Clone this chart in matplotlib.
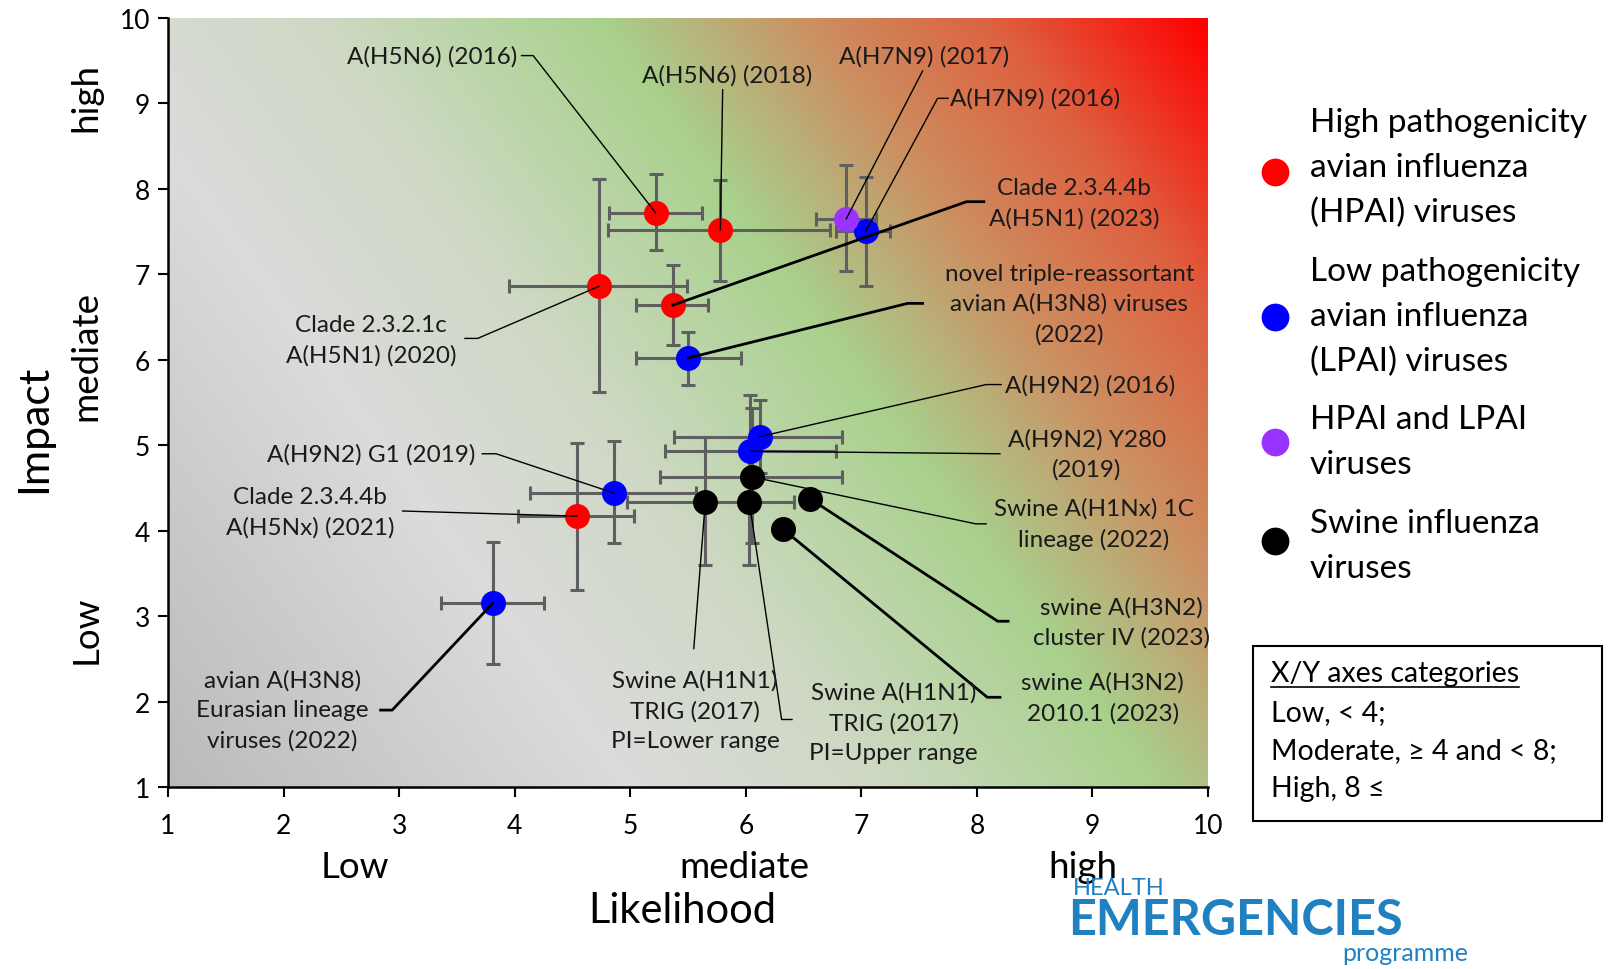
import numpy as np
import matplotlib
matplotlib.use('Agg')
import matplotlib.pyplot as plt
from matplotlib.patches import Rectangle

plt.rcParams['font.family'] = ['Lato', 'DejaVu Sans']

W, H = 1620, 970

# HPAI viruses (red)
hpai_names = ['A(H5N6) (2016)', 'A(H5N6) (2018)', 'Clade 2.3.2.1c\nA(H5N1) (2020)',
              'Clade 2.3.4.4b\nA(H5N1) (2023)', 'Clade 2.3.4.4b\nA(H5Nx) (2021)']
hpai_x = [5.22, 5.78, 4.73, 5.37, 4.54]
hpai_y = [7.72, 7.52, 6.86, 6.64, 4.17]
hpai_xlo = [4.82, 4.81, 3.95, 5.05, 4.03]
hpai_xhi = [5.62, 6.73, 5.49, 5.67, 5.03]
hpai_ylo = [7.29, 6.92, 5.62, 6.17, 3.31]
hpai_yhi = [8.17, 8.10, 8.11, 7.11, 5.03]

# LPAI viruses (blue)
lpai_names = ['A(H7N9) (2016)', 'novel triple-reassortant\navian A(H3N8) viruses\n(2022)',
              'A(H9N2) (2016)', 'A(H9N2) Y280\n(2019)', 'A(H9N2) G1 (2019)',
              'avian A(H3N8)\nEurasian lineage\nviruses (2022)']
lpai_x = [7.04, 5.50, 6.12, 6.04, 4.86, 3.81]
lpai_y = [7.51, 6.02, 5.10, 4.93, 4.44, 3.15]
lpai_xlo = [6.78, 5.05, 5.38, 5.30, 4.13, 3.36]
lpai_xhi = [7.25, 5.96, 6.83, 6.78, 5.57, 4.25]
lpai_ylo = [6.86, 5.70, 4.67, 4.30, 3.85, 2.44]
lpai_yhi = [8.14, 6.32, 5.53, 5.59, 5.05, 3.87]

# HPAI and LPAI (purple)
mix_names = ['A(H7N9) (2017)']
mix_x = [6.87]
mix_y = [7.65]
mix_xlo = [6.61]
mix_xhi = [7.13]
mix_ylo = [7.04]
mix_yhi = [8.28]

# Swine influenza viruses (black)
swine_names = ['Swine A(H1Nx) 1C\nlineage (2022)', 'Swine A(H1N1)\nTRIG (2017)\nPI=Lower range',
               'Swine A(H1N1)\nTRIG (2017)\nPI=Upper range', 'swine A(H3N2)\ncluster IV (2023)',
               'swine A(H3N2)\n2010.1 (2023)']
swine_x = [6.05, 5.65, 6.03, 6.56, 6.32]
swine_y = [4.63, 4.34, 4.34, 4.37, 4.02]
swine_xlo = [5.26, 4.97, 6.03, 6.56, 6.32]
swine_xhi = [6.83, 6.42, 6.03, 6.56, 6.32]
swine_ylo = [3.85, 3.60, 3.60, 4.37, 4.02]
swine_yhi = [5.44, 5.10, 5.10, 4.37, 4.02]

groups = [
    ('#ff0000', hpai_names, hpai_x, hpai_y, hpai_xlo, hpai_xhi, hpai_ylo, hpai_yhi),
    ('#0000ff', lpai_names, lpai_x, lpai_y, lpai_xlo, lpai_xhi, lpai_ylo, lpai_yhi),
    ('#9933ff', mix_names, mix_x, mix_y, mix_xlo, mix_xhi, mix_ylo, mix_yhi),
    ('#000000', swine_names, swine_x, swine_y, swine_xlo, swine_xhi, swine_ylo, swine_yhi),
]

legend_lines = [
    ['High pathogenicity', 'avian influenza', '(HPAI) viruses'],
    ['Low pathogenicity', 'avian influenza', '(LPAI) viruses'],
    ['HPAI and LPAI', 'viruses'],
    ['Swine influenza', 'viruses'],
]

box_lines = ['X/Y axes categories', 'Low, < 4;', 'Moderate, \u2265 4 and < 8;', 'High, 8 \u2264']

# label placement: name -> text x, text y, ha, leader points on label side, line width
label_layout = [
    ('A(H5N6) (2016)', 4.02, 9.56, 'right', [(4.06, 9.56), (4.16, 9.56)], 1.0),
    ('A(H5N6) (2018)', 5.84, 9.34, 'center', [(5.80, 9.16)], 1.0),
    ('A(H7N9) (2017)', 7.54, 9.56, 'center', [(7.53, 9.38)], 1.0),
    ('A(H7N9) (2016)', 7.77, 9.06, 'left', [(7.75, 9.06), (7.66, 9.06)], 1.0),
    ('Clade 2.3.4.4b\nA(H5N1) (2023)', 8.84, 7.84, 'center', [(8.06, 7.85), (7.91, 7.85)], 2.0),
    ('novel triple-reassortant\navian A(H3N8) viruses\n(2022)', 8.80, 6.66, 'center',
     [(7.53, 6.66), (7.40, 6.66)], 2.0),
    ('Clade 2.3.2.1c\nA(H5N1) (2020)', 2.76, 6.23, 'center', [(3.57, 6.25), (3.68, 6.25)], 1.0),
    ('A(H9N2) (2016)', 8.24, 5.71, 'left', [(8.21, 5.71), (8.08, 5.71)], 1.0),
    ('A(H9N2) Y280\n(2019)', 8.95, 4.90, 'center', [(8.20, 4.90)], 1.0),
    ('Swine A(H1Nx) 1C\nlineage (2022)', 9.01, 4.08, 'center', [(8.08, 4.08), (7.99, 4.08)], 1.0),
    ('swine A(H3N2)\ncluster IV (2023)', 9.25, 2.93, 'center', [(8.27, 2.94), (8.18, 2.94)], 2.0),
    ('swine A(H3N2)\n2010.1 (2023)', 9.09, 2.05, 'center', [(8.20, 2.05), (8.09, 2.05)], 2.0),
    ('Swine A(H1N1)\nTRIG (2017)\nPI=Upper range', 7.28, 1.76, 'center', [(6.40, 1.79), (6.31, 1.79)], 1.0),
    ('Swine A(H1N1)\nTRIG (2017)\nPI=Lower range', 5.56, 1.90, 'center', [(5.55, 2.62)], 1.0),
    ('A(H9N2) G1 (2019)', 3.66, 4.90, 'right', [(3.72, 4.90), (3.84, 4.90)], 1.0),
    ('Clade 2.3.4.4b\nA(H5Nx) (2021)', 2.23, 4.22, 'center', [(3.03, 4.23)], 1.0),
    ('avian A(H3N8)\nEurasian lineage\nviruses (2022)', 1.99, 1.90, 'center', [(2.84, 1.90), (2.94, 1.90)], 2.0),
]

fig = plt.figure(figsize=(W / 100, H / 100), dpi=100)
ax = fig.add_axes([168 / W, 1 - 788 / H, 1040 / W, 769 / H])

# gradient background (grey -> green -> red along the diagonal)
nx, ny = 520, 385
u, v = np.meshgrid(np.linspace(0, 1, nx), np.linspace(0, 1, ny))
t = (u * 1040 - 455) * 0.81 + (v * 769 - 769) * 0.587
stops = [-820, -450, -250, -20, 60, 150, 300, 470]
cols = np.array([[0.73, 0.73, 0.73], [0.86, 0.86, 0.86], [0.81, 0.85, 0.77], [0.66, 0.82, 0.55],
                 [0.72, 0.70, 0.48], [0.80, 0.56, 0.38], [0.87, 0.38, 0.25], [1.0, 0.0, 0.0]])
img = np.dstack([np.interp(t, stops, cols[:, k]) for k in range(3)])
ax.imshow(img, extent=(1, 10, 1, 10), origin='lower', aspect='auto', zorder=0, interpolation='bilinear')

points = {}
for color, names, xs, ys, xlo, xhi, ylo, yhi in groups:
    xs, ys = np.array(xs), np.array(ys)
    xerr = [xs - np.array(xlo), np.array(xhi) - xs]
    yerr = [ys - np.array(ylo), np.array(yhi) - ys]
    ax.errorbar(xs, ys, xerr=xerr, yerr=yerr, fmt='none', ecolor='#5f5f5f',
                elinewidth=2.2, capsize=5, capthick=2.2, zorder=3)
    ax.plot(xs, ys, 'o', color=color, ms=18, mec='none', zorder=4)
    for n, x, y in zip(names, xs, ys):
        points[n] = (x, y)

for name, tx, ty, ha, pts, lw in label_layout:
    ax.text(tx, ty, name, ha=ha, va='center', fontsize=17.5, color='#1a1a1a',
            multialignment='center', linespacing=1.5, zorder=6)
    path = pts + [points[name]]
    ax.plot([p[0] for p in path], [p[1] for p in path], color='black', lw=lw, zorder=5)

ax.set_xlim(1, 10)
ax.set_ylim(1, 10)
ax.set_xticks(range(1, 11))
ax.set_yticks(range(1, 11))
ax.tick_params(labelsize=19, length=7, width=1.5, colors='black')
ax.tick_params(axis='x', pad=12)
ax.tick_params(axis='y', pad=6)
for s in ['top', 'right']:
    ax.spines[s].set_visible(False)
for s in ['left', 'bottom']:
    ax.spines[s].set_linewidth(1.8)

# overlay in pixel coordinates for outer texts
ov = fig.add_axes([0, 0, 1, 1])
ov.set_xlim(0, W)
ov.set_ylim(H, 0)
ov.axis('off')

ov.text(682, 911, 'Likelihood', ha='center', va='center', fontsize=30)
for txt, x in zip(['Low', 'mediate', 'high'], [355, 744, 1083]):
    ov.text(x, 868, txt, ha='center', va='center', fontsize=26.5)
ov.text(34, 429, 'Impact', ha='center', va='center', fontsize=31, rotation=90)
for txt, y in zip(['high', 'mediate', 'Low'], [98, 356, 630]):
    ov.text(86, y, txt, ha='center', va='center', fontsize=26.5, rotation=90)

# legend
leg_first = [123, 272, 420, 524]
leg_marker = [173, 318, 443, 542]
for (color, *_), lines, y0, ym in zip(groups, legend_lines, leg_first, leg_marker):
    ov.plot([1275], [ym], 'o', color=color, ms=20, mec='none')
    for i, ln in enumerate(lines):
        ov.text(1310, y0 + i * 45, ln, ha='left', va='center', fontsize=24)

# axes categories box
ov.add_patch(Rectangle((1253, 647), 349, 175, fill=True, fc='white', ec='black', lw=1.5))
box_txt = []
for ln, y in zip(box_lines, [674, 713, 751, 789]):
    box_txt.append(ov.text(1271, y, ln, ha='left', va='center', fontsize=20.5))
fig.canvas.draw()
bb = box_txt[0].get_window_extent()
ov.plot([bb.x0, bb.x1], [688, 688], color='black', lw=1.2)

# logo
blue = '#2080c0'
ov.text(1073, 889, 'HEALTH', ha='left', va='center', fontsize=17, color=blue)
ov.text(1068, 921, 'EMERGENCIES', ha='left', va='center', fontsize=35, color=blue, fontweight='bold')
ov.text(1342, 954, 'programme', ha='left', va='center', fontsize=18, color=blue)

fig.savefig('out.png', dpi=100)
